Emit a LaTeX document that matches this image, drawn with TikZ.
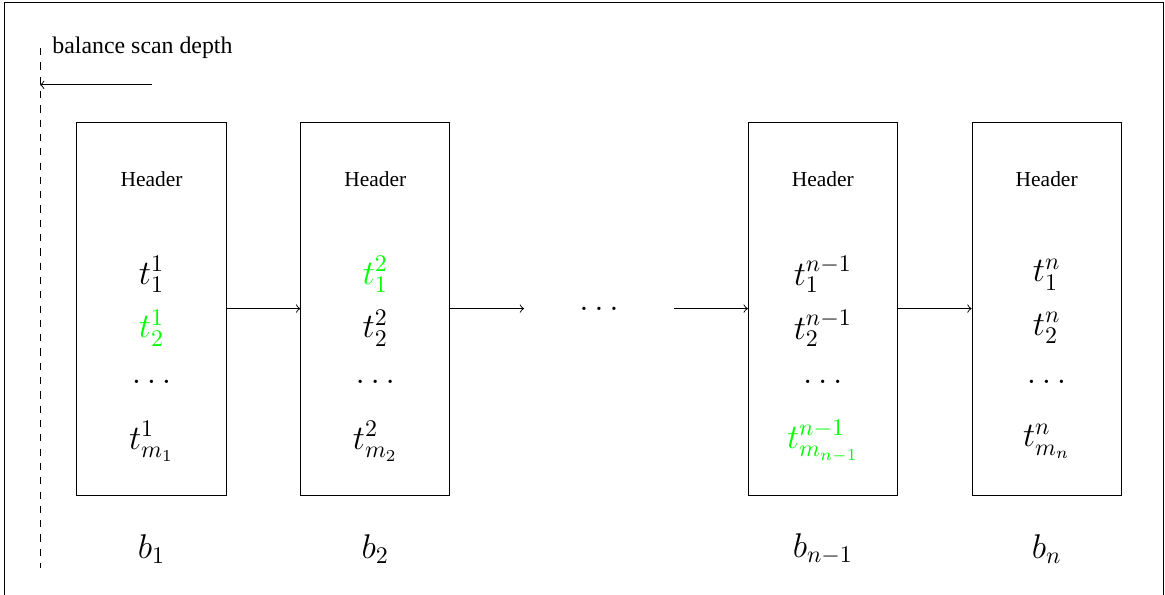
\documentclass[tikz,border=0pt]{standalone}
\usepackage[no-math]{fontspec}
\setmainfont{Liberation Serif}
\usetikzlibrary{positioning, calc}

\tikzset{
  block/.style={draw, rectangle, minimum width=2.2cm, minimum height=5.5cm, inner sep=0pt},
  ghost/.style={rectangle, minimum width=2.2cm, minimum height=5.5cm, inner sep=0pt},
  entry/.style={font=\Large},
}

\begin{document}
\begin{tikzpicture}[>=to]
  \useasboundingbox (0,0) rectangle (17.18,8.761);
  % Frame (bottom edge falls off the page)
  \draw (0.07,-0.05) rectangle (17.15,8.73);
  % Scan depth marker
  \coordinate (scanTop) at (0.59,8.05);
  \coordinate (scanBot) at (0.59,0.38);
  \draw[dashed] (scanTop) -- (scanBot);
  \coordinate (depthStart) at (2.24,7.51);
  \coordinate (depthEnd) at (0.59,7.51);
  \draw[->] (depthStart) -- (depthEnd);
  \node[right] (depthLbl) at (0.65,8.05) {balance scan depth};
  % Blocks
  \foreach \i/\x/\s/\m/\ca/\cb/\cm in {1/2.235/1/m_1/black/green/black,
      2/5.535/2/m_2/green/black/black,
      3/12.135/n-1/m_{n-1}/black/black/green,
      4/15.435/n/m_n/black/black/black} {
    \node[block] (blk\i) at (\x,4.21) {};
    \node[font=\small] (hdr\i) at (\x,6.12) {Header};
    \node[entry, text=\ca] (tA\i) at (\x,4.71) {$t^{\s}_1$};
    \node[entry, text=\cb] (tB\i) at (\x,3.92) {$t^{\s}_2$};
    \node[entry] (tdots\i) at (\x,3.13) {$\dots$};
    \node[entry, text=\cm] (tM\i) at (\x,2.25) {$t^{\s}_{\m}$};
    \node[entry] (lbl\i) at (\x,0.66) {$b_{\s}$};
  }
  % Elided blocks
  \node[ghost, font=\Large] (gap) at (8.835,4.21) {$\dots$};
  \draw[->] (blk1.east) -- (blk2.west);
  \draw[->] (blk2.east) -- (gap.west);
  \draw[->] (gap.east) -- (blk3.west);
  \draw[->] (blk3.east) -- (blk4.west);
\end{tikzpicture}
\end{document}
